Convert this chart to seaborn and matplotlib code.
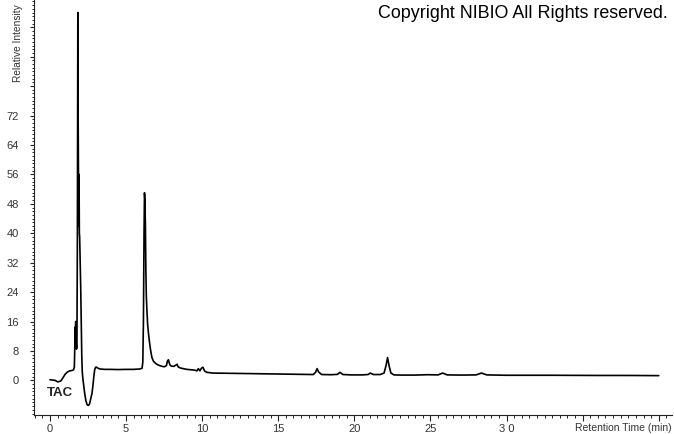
import matplotlib
matplotlib.use("Agg")
import matplotlib.pyplot as plt
from matplotlib.ticker import MultipleLocator, FixedLocator
import seaborn as sns
import pandas as pd

# Retention time (min)
time = [0.00, 0.35, 0.50, 0.70, 0.85, 1.00, 1.15, 1.30, 1.45, 1.55, 1.60, 1.63, 1.65, 1.67,
        1.69, 1.71, 1.74, 1.77, 1.80, 1.83, 1.85, 1.87, 1.89, 1.91, 1.93, 1.95, 1.98, 2.02,
        2.06, 2.09, 2.12, 2.16, 2.22, 2.28, 2.36, 2.44, 2.52, 2.60, 2.68, 2.76, 2.82, 2.88,
        2.94, 3.00, 3.06, 3.15, 3.30, 3.60, 4.00, 4.50, 5.00, 5.50, 5.90, 6.05, 6.10, 6.14,
        6.18, 6.21, 6.24, 6.27, 6.30, 6.33, 6.37, 6.42, 6.48, 6.55, 6.62, 6.70, 6.80, 6.95,
        7.10, 7.30, 7.50, 7.65, 7.72, 7.78, 7.85, 7.92, 8.00, 8.12, 8.25, 8.35, 8.42, 8.55,
        8.75, 9.00, 9.25, 9.50, 9.65, 9.75, 9.85, 9.95, 10.05, 10.15, 10.30, 10.70, 11.50,
        12.50, 13.50, 14.50, 15.50, 16.50, 17.30, 17.45, 17.55, 17.65, 17.85, 18.50, 18.90,
        19.05, 19.25, 19.80, 20.50, 20.90, 21.05, 21.25, 21.70, 21.95, 22.08, 22.18, 22.28,
        22.40, 22.60, 23.00, 24.00, 24.80, 25.50, 25.80, 26.10, 27.00, 28.00, 28.35, 28.70,
        30.00, 33.00, 36.00, 38.00, 40.00]

# Relative intensity
intensity = [0.2, 0.0, -0.4, -0.2, 0.7, 1.7, 2.3, 2.6, 2.7, 2.9, 3.6, 9.0, 14.5, 10.5,
             16.0, 11.0, 8.5, 9.0, 38.0, 100.0, 72.0, 57.5, 42.0, 56.0, 40.0, 39.0, 33.0, 25.0,
             14.0, 6.5, 2.5, 0.5, -1.5, -3.5, -5.5, -6.6, -6.8, -6.4, -5.0, -3.5, -1.5, 1.0,
             3.0, 3.6, 3.6, 3.3, 3.1, 3.0, 3.0, 2.95, 3.0, 3.0, 3.1, 3.3, 5.0, 16.0,
             40.0, 51.0, 49.0, 42.0, 30.0, 23.0, 19.0, 15.0, 12.5, 10.0, 8.0, 6.2, 5.2, 4.6,
             4.2, 3.9, 3.7, 4.0, 5.3, 5.6, 4.6, 4.0, 3.9, 3.8, 4.1, 4.4, 3.7, 3.4,
             3.2, 3.0, 2.9, 2.8, 2.6, 3.2, 2.6, 3.3, 3.6, 2.6, 2.2, 2.0, 1.95,
             1.9, 1.8, 1.75, 1.7, 1.65, 1.6, 2.2, 3.2, 2.3, 1.6, 1.55, 1.65,
             2.2, 1.6, 1.5, 1.5, 1.6, 2.0, 1.6, 1.6, 2.0, 4.0, 6.2, 4.0,
             2.0, 1.5, 1.45, 1.45, 1.55, 1.5, 2.0, 1.5, 1.45, 1.5, 2.0, 1.5,
             1.4, 1.4, 1.35, 1.35, 1.3]

x_major = [0, 5, 10, 15, 20, 25, 30, 35, 40]
x_labels = ["0", "5", "10", "15", "20", "25", "3 0", "", ""]
y_major = [0, 8, 16, 24, 32, 40, 48, 56, 64, 72, 80, 88, 96]
y_labels = ["0", "8", "16", "24", "32", "40", "48", "56", "64", "72", "", "", ""]

df = pd.DataFrame({"Retention Time (min)": time, "Relative Intensity": intensity})

sns.set_style("ticks")
plt.rcParams["font.family"] = ["Liberation Sans", "DejaVu Sans"]

fig = plt.figure(figsize=(6.74, 4.34), dpi=100)
ax = fig.add_axes([34 / 674, 19 / 434, (672 - 34) / 674, 415 / 434])

sns.lineplot(data=df, x="Retention Time (min)", y="Relative Intensity", ax=ax,
             sort=False, estimator=None, color="black", linewidth=1.2)

ax.set_xlim(-1.05, 40.87)
ax.set_ylim(-9.4, 103.4)

ax.xaxis.set_major_locator(FixedLocator(x_major))
ax.set_xticklabels(x_labels)
ax.xaxis.set_minor_locator(MultipleLocator(0.5))
ax.yaxis.set_major_locator(FixedLocator(y_major))
ax.set_yticklabels(y_labels)
ax.yaxis.set_minor_locator(MultipleLocator(1))

ax.tick_params(axis="x", which="major", direction="out", length=4.3, width=0.8,
               pad=2, labelsize=8, labelcolor="#333333", color="#222222")
ax.tick_params(axis="x", which="minor", direction="out", length=2.2, width=0.7,
               color="#222222")
ax.tick_params(axis="y", which="major", direction="out", length=3.0, width=0.8,
               pad=8, labelsize=8, labelcolor="#333333", color="#222222")
ax.tick_params(axis="y", which="minor", direction="out", length=1.5, width=0.7,
               color="#222222")

ax.set_xlabel("")
ax.set_ylabel("")
for s in ["top", "right"]:
    ax.spines[s].set_visible(False)
for s in ["left", "bottom"]:
    ax.spines[s].set_linewidth(0.8)
    ax.spines[s].set_color("#222222")

fig.text(672 / 674, 1 - 428 / 434, "Retention Time (min)", ha="right", va="center",
         fontsize=7.5, color="#333333")
fig.text(18 / 674, 1 - 82 / 434, "Relative Intensity", rotation=90, ha="center",
         va="bottom", fontsize=7.3, color="#333333")
fig.text(668 / 674, 1 - 14 / 434, "Copyright NIBIO All Rights reserved.", ha="right",
         va="center", fontsize=12.9, color="black")
ax.text(47 / 674, 1 - 393 / 434, "TAC", transform=fig.transFigure, ha="left",
        va="center", fontsize=9.5, fontweight="bold", color="#222222")

fig.savefig("out.png", dpi=100, facecolor="white")
